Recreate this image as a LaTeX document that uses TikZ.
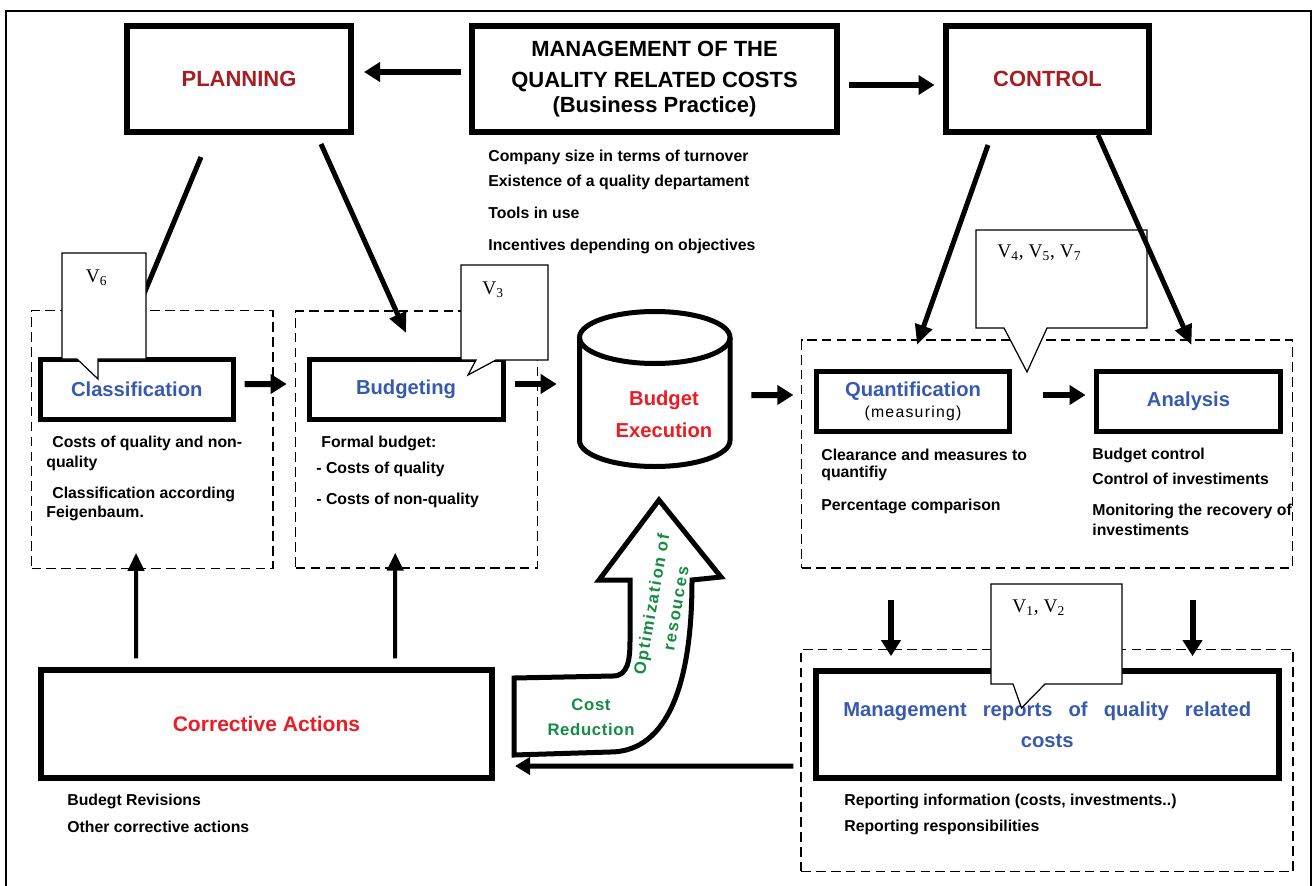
\documentclass[tikz,border=0pt]{standalone}
\usepackage{fontspec}
\setmainfont{Liberation Sans}
\newfontfamily\callfont{Liberation Serif}
\newfontfamily\optfont[LetterSpace=10]{Liberation Sans}
\newfontfamily\costfont[LetterSpace=4]{Liberation Sans}
\newfontfamily\measfont[LetterSpace=8]{Liberation Sans}
\usetikzlibrary{arrows.meta}

\definecolor{plancol}{RGB}{165,30,35}
\definecolor{stepcol}{RGB}{55,90,175}
\definecolor{execcol}{RGB}{237,28,36}
\definecolor{optcol}{RGB}{20,140,65}

\tikzset{
  bigbox/.style={draw, line width=0.12cm, inner sep=0cm, minimum height=2.12cm,
    font=\fontsize{12.5}{15}\selectfont\bfseries, align=center},
  stepbox/.style={draw, line width=0.1cm, inner sep=0cm, minimum height=1.2cm,
    text=stepcol, font=\fontsize{11.5}{14}\selectfont\bfseries, align=center},
  groupbox/.style={draw, line width=0.7pt, dash pattern=on 5.5pt off 3pt, inner sep=0cm},
  note/.style={anchor=west, inner sep=0cm, font=\fontsize{9}{11}\selectfont\bfseries},
  vnote/.style={anchor=west, inner sep=0cm, font=\callfont\fontsize{11}{13}\selectfont},
  callout/.style={draw, line width=0.7pt, fill=white},
  fatarrow/.style={line width=0.12cm, -{Triangle[length=0.32cm,width=0.38cm]}},
  midarrow/.style={line width=0.1cm, -{Triangle[length=0.3cm,width=0.34cm]}},
  thinarrow/.style={line width=0.08cm, -{Triangle[length=0.36cm,width=0.32cm]}},
  slantline/.style={line width=0.1cm, -{Triangle[length=0.4cm,width=0.34cm]}}
}

\begin{document}
\begin{tikzpicture}
\useasboundingbox (0,0) rectangle (26.28,-17.7);

% frame
\draw[line width=0.035cm] (0.12,-17.75) |- (26.22,-0.22) -- (26.22,-17.75);

% dashed groups
\node[groupbox, minimum width=4.83cm, minimum height=5.15cm] (cdash) at (3.045,-8.79) {};
\node[groupbox, minimum width=4.83cm, minimum height=5.14cm] (bdash) at (8.33,-8.79) {};
\node[groupbox, minimum width=9.82cm, minimum height=4.56cm] (rdash) at (20.94,-9.08) {};
\node[groupbox, minimum width=9.84cm, minimum height=4.45cm] (repdash) at (20.94,-15.21) {};

% top row
\node[bigbox, minimum width=4.48cm, text=plancol] (planning) at (4.78,-1.58) {PLANNING};
\node[bigbox, minimum width=7.3cm] (mgmt) at (13.09,-1.58)
  {MANAGEMENT OF THE\\[3pt]QUALITY RELATED COSTS\\[-1pt](Business Practice)};
\node[bigbox, minimum width=4.06cm, text=plancol] (control) at (20.95,-1.58) {CONTROL};

\node[note] (mg1) at (9.76,-3.14) {Company size in terms of turnover};
\node[note] (mg2) at (9.76,-3.64) {Existence of a quality departament};
\node[note] (mg3) at (9.76,-4.26) {Tools in use};
\node[note] (mg4) at (9.76,-4.92) {Incentives depending on objectives};

% steps
\node[stepbox, minimum width=3.87cm] (classif) at (2.735,-7.79) {Classification};
\node[stepbox, minimum width=3.88cm] (budg) at (8.12,-7.79) {Budgeting};
\node[stepbox, minimum width=3.86cm] (quant) at (18.26,-8.03)
  {Quantification\\[-2.3pt]{\measfont\mdseries\fontsize{9}{11}\selectfont\color{black}(measuring)}};
\node[stepbox, minimum width=3.68cm] (analysis) at (23.77,-8.03) {Analysis};

% budget execution
\node[minimum width=3.11cm, minimum height=3.2cm, inner sep=0cm] (exec) at (13.095,-7.78) {};
\draw[line width=0.1cm] (11.59,-6.75) -- (11.59,-8.81)
  arc[start angle=180, end angle=360, x radius=1.505cm, y radius=0.52cm] -- (14.6,-6.75);
\draw[line width=0.1cm] (13.095,-6.75) ellipse [x radius=1.505cm, y radius=0.52cm];
\node[text=execcol, font=\fontsize{11.5}{14}\selectfont\bfseries, align=center] (exectext)
  at (13.28,-8.28) {Budget\\[4pt]Execution};

% bottom row
\node[bigbox, minimum width=9.02cm, minimum height=2.15cm, text=execcol,
      font=\fontsize{12}{14}\selectfont\bfseries] (corr) at (5.33,-14.48) {Corrective Actions};
\node[bigbox, minimum width=9.25cm, minimum height=2.13cm, text=stepcol,
      font=\fontsize{11.5}{14}\selectfont\bfseries] (reports) at (20.945,-14.49)
  {\makebox[8.16cm][s]{Management reports of quality related}\\[3.5pt]costs};

% texts
\node[note] (cl1) at (1.04,-8.86) {Costs of quality and non-};
\node[note] (cl2) at (0.92,-9.26) {quality};
\node[note] (cl3) at (1.04,-9.88) {Classification according};
\node[note] (cl4) at (0.92,-10.26) {Feigenbaum.};
\node[note] (bu1) at (6.42,-8.86) {Formal budget:};
\node[note] (bu2) at (6.32,-9.38) {- Costs of quality};
\node[note] (bu3) at (6.32,-10.0) {- Costs of non-quality};
\node[note] (qu1) at (16.42,-9.1) {Clearance and measures to};
\node[note] (qu2) at (16.42,-9.46) {quantifiy};
\node[note] (qu3) at (16.42,-10.12) {Percentage comparison};
\node[note] (an1) at (21.84,-9.1) {Budget control};
\node[note] (an2) at (21.84,-9.58) {Control of investiments};
\node[note] (an3) at (21.84,-10.22) {Monitoring the recovery of};
\node[note] (an4) at (21.84,-10.6) {investiments};
\node[note] (co1) at (1.34,-16.02) {Budegt Revisions};
\node[note] (co2) at (1.34,-16.54) {Other corrective actions};
\node[note] (re1) at (16.88,-16.02) {Reporting information (costs, investments..)};
\node[note] (re2) at (16.88,-16.54) {Reporting responsibilities};

% connectors
\draw[fatarrow, shorten <=0.17cm, shorten >=0.2cm] ([yshift=0.14cm]mgmt.west) -- ([yshift=0.14cm]planning.east);
\draw[fatarrow, shorten <=0.17cm, shorten >=0.17cm] ([yshift=-0.12cm]mgmt.east) -- ([yshift=-0.12cm]control.west);
\draw[slantline] ([xshift=-0.76cm,yshift=-0.44cm]planning.south) -- ([xshift=-0.34cm,yshift=0.1cm]classif.north);
\draw[slantline] ([xshift=1.64cm,yshift=-0.18cm]planning.south) -- ([yshift=0.48cm]budg.north);
\draw[slantline] ([xshift=-1.19cm,yshift=-0.2cm]control.south) -- ([xshift=0.08cm,yshift=0.48cm]quant.north);

\draw[fatarrow, shorten <=0.17cm, shorten >=0.17cm] ([yshift=0.11cm]classif.east) -- ([yshift=1.11cm]bdash.west);
\draw[fatarrow, shorten <=0.18cm, shorten >=0.4cm] ([yshift=0.11cm]budg.east) -- ([yshift=0.1cm]exec.west);
\draw[fatarrow, shorten <=0.37cm, shorten >=0.15cm] ([yshift=-0.12cm]exec.east) -- ([yshift=1.18cm]rdash.west);
\draw[fatarrow, shorten <=0.61cm, shorten >=0.17cm] ([yshift=0.13cm]quant.east) -- ([yshift=0.13cm]analysis.west);

\draw[fatarrow, shorten <=0.62cm, shorten >=-0.15cm] ([xshift=-3.12cm]rdash.south) -- ([xshift=-3.12cm]repdash.north);
\draw[fatarrow, shorten <=0.62cm, shorten >=-0.15cm] ([xshift=2.91cm]rdash.south) -- ([xshift=2.91cm]repdash.north);
\draw[midarrow, shorten <=0.14cm, shorten >=0.4cm] ([yshift=-0.113cm]repdash.west) -- ([yshift=-0.84cm]corr.east);
\draw[thinarrow, shorten <=0.18cm, shorten >=-0.32cm] ([xshift=-2.61cm]corr.north) -- ([xshift=-0.324cm]cdash.south);
\draw[thinarrow, shorten <=0.18cm, shorten >=-0.32cm] ([xshift=2.57cm]corr.north) -- ([xshift=-0.426cm]bdash.south);

% bent arrow
\draw[line width=0.1cm, fill=white, line join=miter] (13.18,-10.0) -- (14.42,-11.54) -- (13.84,-11.6)
  .. controls (13.84,-14.0) and (13.2,-15.04) .. (12.2,-15.04) -- (10.28,-15.1) -- (10.28,-13.56)
  -- (12.26,-13.52) .. controls (12.56,-13.52) and (12.6,-13.2) .. (12.6,-12.8)
  -- (12.6,-11.6) -- (11.98,-11.6) -- cycle;
\node[rotate=80, text=optcol, font=\optfont\fontsize{9.5}{14}\selectfont\bfseries, align=center] (opt)
  at (13.27,-12.13) {Optimization of\\resouces};
\node[text=optcol, font=\costfont\fontsize{9.5}{14}\selectfont\bfseries, align=center] (cost)
  at (11.82,-14.35) {Cost\\Reduction};

% callouts
\draw[callout] (1.24,-5.06) -- (2.92,-5.06) -- (2.92,-7.18) -- (1.96,-7.18) -- (1.96,-7.58) -- (1.54,-7.18) -- (1.24,-7.18) -- cycle;
\draw[callout] (9.22,-5.3) -- (10.96,-5.3) -- (10.96,-7.2) -- (9.92,-7.2) -- (9.36,-7.5) -- (9.52,-7.2) -- (9.22,-7.2) -- cycle;
\draw[callout] (19.52,-4.6) -- (22.94,-4.6) -- (22.94,-6.56) -- (20.94,-6.56) -- (20.54,-7.44) -- (20.08,-6.56) -- (19.52,-6.56) -- cycle;
\draw[callout] (19.82,-11.68) -- (22.44,-11.68) -- (22.44,-13.68) -- (20.9,-13.68) -- (20.43,-14.16) -- (20.26,-13.68) -- (19.82,-13.68) -- cycle;
\node[vnote] (v6) at (1.71,-5.56) {V\textsubscript{6}};
\node[vnote] (v3) at (9.64,-5.8) {V\textsubscript{3}};
\node[vnote] (v457) at (19.94,-5.06) {V\textsubscript{4}, V\textsubscript{5}, V\textsubscript{7}};
\node[vnote] (v12) at (20.24,-12.16) {V\textsubscript{1}, V\textsubscript{2}};

\draw[slantline] ([xshift=1.01cm]control.south) -- ([xshift=0.06cm,yshift=0.48cm]analysis.north);

\end{tikzpicture}
\end{document}
